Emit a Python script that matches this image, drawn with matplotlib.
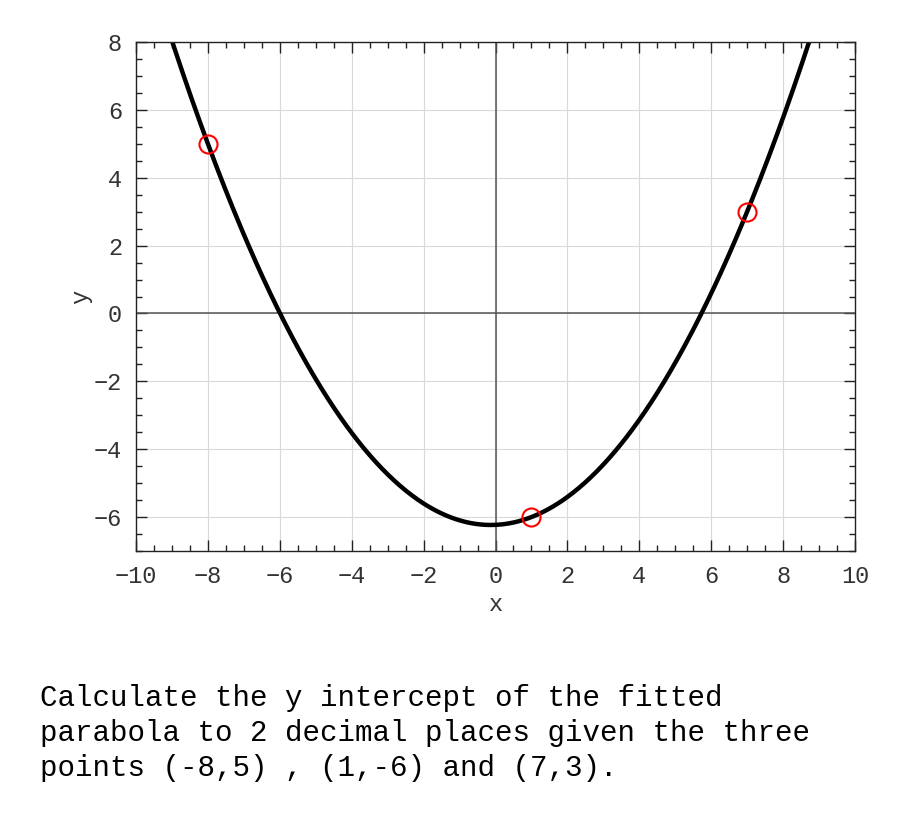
import numpy as np
import matplotlib
matplotlib.use("Agg")
import matplotlib.pyplot as plt
from matplotlib.ticker import MultipleLocator

# Points given in the question
px = [-8, 1, 7]
py = [5, -6, 3]

xticks = [-10, -8, -6, -4, -2, 0, 2, 4, 6, 8, 10]
yticks = [-6, -4, -2, 0, 2, 4, 6, 8]

question = ("Calculate the y intercept of the fitted\n"
            "parabola to 2 decimal places given the three\n"
            "points (-8,5) , (1,-6) and (7,3).")

plt.rcParams['font.family'] = ['Liberation Mono', 'DejaVu Sans Mono']

# Fitted parabola through the three points
coef = np.polyfit(px, py, 2)
xs = np.linspace(-10, 10, 600)
ys = np.polyval(coef, xs)

fig = plt.figure(figsize=(9, 8.25), dpi=100)
ax = fig.add_axes([136 / 900, 1 - 551 / 825, (855 - 136) / 900, (551 - 42) / 825])

ax.grid(True, color="#d9d9d9", linewidth=0.8)
ax.axhline(0, color="#555555", linewidth=1.1)
ax.axvline(0, color="#555555", linewidth=1.1)
ax.plot(xs, ys, color="black", linewidth=3.2)
ax.plot(px, py, "o", markersize=13, markerfacecolor="none",
        markeredgecolor="red", markeredgewidth=1.5)

ax.set_xlim(-10, 10)
ax.set_ylim(-7, 8)
ax.set_xticks(xticks)
ax.set_yticks(yticks)
ax.set_xticklabels([str(t).replace("-", "\u2212") for t in xticks])
ax.set_yticklabels([str(t).replace("-", "\u2212") for t in yticks])
ax.xaxis.set_minor_locator(MultipleLocator(0.5))
ax.yaxis.set_minor_locator(MultipleLocator(0.5))
ax.tick_params(which="both", direction="in", top=True, right=True, colors="#222222",
               labelcolor="#333333", labelsize=17)
ax.tick_params(which="major", length=8, width=1, pad=10)
ax.tick_params(which="minor", length=4, width=1)
ax.set_axisbelow(True)
for s in ax.spines.values():
    s.set_color("#222222")
    s.set_linewidth(1)

ax.set_xlabel("x", fontsize=17, color="#333333", labelpad=4)
ax.set_ylabel("y", fontsize=17, color="#333333", labelpad=1)

fig.text(40 / 900, 1 - 684 / 825, question, fontsize=21, va="top", ha="left",
         linespacing=1.32, color="black")

fig.savefig("out.png", dpi=100)
